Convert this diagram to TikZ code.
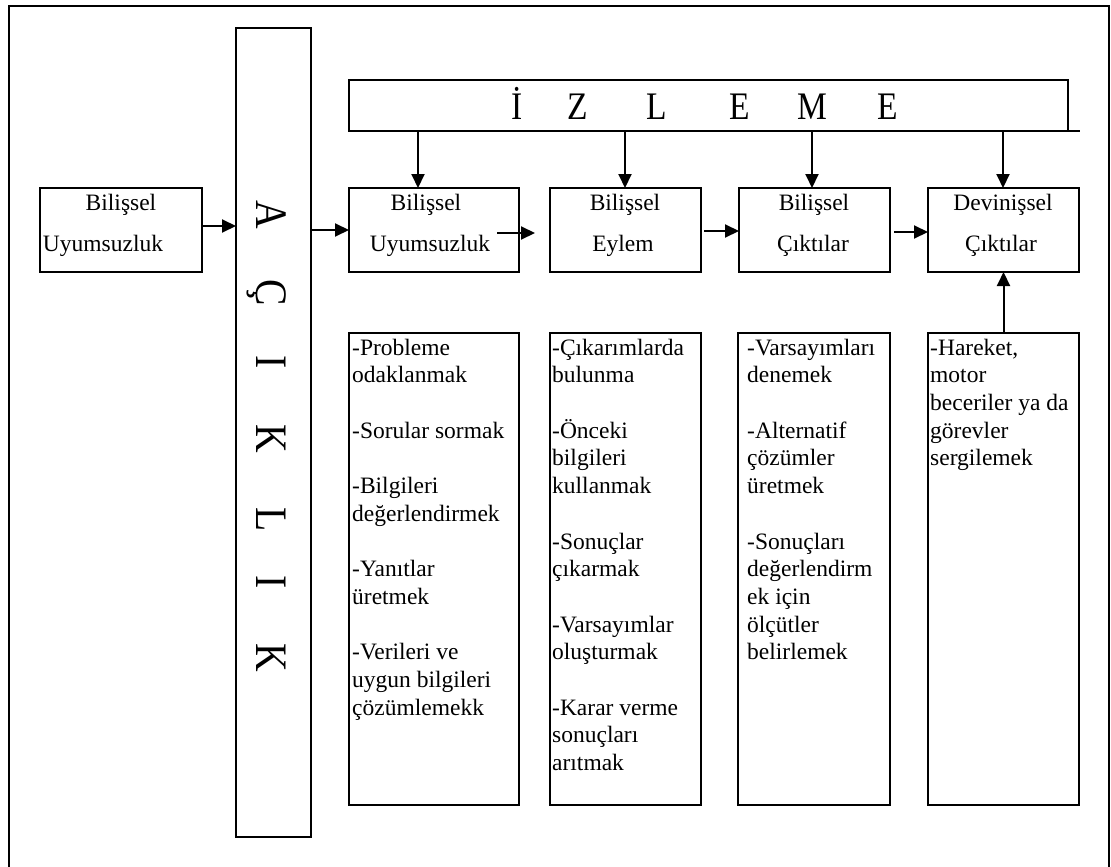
\documentclass[tikz,border=0pt]{standalone}
\usepackage{fontspec}
\usepackage{graphicx}
\setmainfont{Liberation Serif}
\usetikzlibrary{arrows.meta}
\begin{document}
\begin{tikzpicture}[x=1pt,y=-1pt,
  box/.style={draw,line width=2pt,inner sep=0pt,outer sep=0pt,anchor=north west},
  arr/.style={line width=2pt,-{Triangle[length=14pt,width=13pt]}},
  lbl/.style={inner sep=0pt,anchor=base,font=\fontsize{23.5}{27.7}\selectfont},
  listtxt/.style={inner sep=0pt,anchor=north west,align=left,font=\fontsize{23.5}{27.7}\selectfont},
  bigtxt/.style={inner sep=0pt,anchor=base west},
]
\useasboundingbox (0,0) rectangle (1111,867);
% outer frame
\draw[line width=1.6pt] (9,872) -- (9,6) -- (1109,6) -- (1109,872);

% boxes
\node[box,minimum width=162pt,minimum height=84pt] (L) at (40,188) {};
\node[box,minimum width=75pt,minimum height=809pt] (A) at (236,28) {};
\node[box,minimum width=719pt,minimum height=51pt] (I) at (349,80) {};
\coordinate (Iext) at (1080,131);
\draw[line width=2pt] (I.south east) -- (Iext);

\node[box,minimum width=170pt,minimum height=84pt] (U1) at (349,188) {};
\node[box,minimum width=151pt,minimum height=84pt] (U2) at (550,188) {};
\node[box,minimum width=151pt,minimum height=84pt] (U3) at (739,188) {};
\node[box,minimum width=151pt,minimum height=84pt] (U4) at (928,188) {};

\node[box,minimum width=170pt,minimum height=472pt] (D1) at (349,333) {};
\node[box,minimum width=151pt,minimum height=472pt] (D2) at (550,333) {};
\node[box,minimum width=152pt,minimum height=472pt] (D3) at (738,333) {};
\node[box,minimum width=151pt,minimum height=472pt] (D4) at (928,333) {};

% big letter texts
\node[bigtxt,font=\fontsize{39}{44}\selectfont] (izl) at (517,119)
 {\makebox[0pt]{\scalebox{0.86}[1]{İ}}\hspace{61pt}\makebox[0pt]{\scalebox{0.86}[1]{Z}}\hspace{79pt}\makebox[0pt]{\scalebox{0.86}[1]{L}}\hspace{83pt}\makebox[0pt]{\scalebox{0.86}[1]{E}}\hspace{72pt}\makebox[0pt]{\scalebox{0.86}[1]{M}}\hspace{76pt}\makebox[0pt]{\scalebox{0.86}[1]{E}}};
\node[bigtxt,rotate=-90,font=\fontsize{45}{50}\selectfont] (acik) at (256,215)
 {\makebox[0pt]{\scalebox{0.88}[1]{A}}\hspace{78pt}\makebox[0pt]{\scalebox{0.88}[1]{Ç}}\hspace{69pt}\makebox[0pt]{\scalebox{0.88}[1]{I}}\hspace{77pt}\makebox[0pt]{\scalebox{0.88}[1]{K}}\hspace{80pt}\makebox[0pt]{\scalebox{0.88}[1]{L}}\hspace{63pt}\makebox[0pt]{\scalebox{0.88}[1]{I}}\hspace{76pt}\makebox[0pt]{\scalebox{0.88}[1]{K}}};

% upper labels
\node[lbl] (Lt1) at (121,210) {Bilişsel};
\node[lbl] (Lt2) at (103,251) {Uyumsuzluk};
\node[lbl] (U1t1) at (426,210) {Bilişsel};
\node[lbl] (U1t2) at (430,251) {Uyumsuzluk};
\node[lbl] (U2t1) at (625,210) {Bilişsel};
\node[lbl] (U2t2) at (623,251) {Eylem};
\node[lbl] (U3t1) at (814,210) {Bilişsel};
\node[lbl] (U3t2) at (813,251) {Çıktılar};
\node[lbl] (U4t1) at (1003,210) {Devinişsel};
\node[lbl] (U4t2) at (1001,251) {Çıktılar};

% lists
\node[listtxt] (D1t) at (352,335.6) {\strut-Probleme\\odaklanmak\\\strut\\-Sorular sormak\\\strut\\-Bilgileri\\değerlendirmek\\\strut\\-Yanıtlar\\üretmek\\\strut\\-Verileri ve\\uygun bilgileri\\çözümlemekk};
\node[listtxt] (D2t) at (552,335.6) {\strut-Çıkarımlarda\\bulunma\\\strut\\-Önceki\\bilgileri\\kullanmak\\\strut\\-Sonuçlar\\çıkarmak\\\strut\\-Varsayımlar\\oluşturmak\\\strut\\-Karar verme\\sonuçları\\arıtmak};
\node[listtxt] (D3t) at (747,335.6) {\strut-Varsayımları\\denemek\\\strut\\-Alternatif\\çözümler\\üretmek\\\strut\\-Sonuçları\\değerlendirm\\ek için\\ölçütler\\belirlemek};
\node[listtxt] (D4t) at (930,335.6) {\strut-Hareket,\\motor\\beceriler ya da\\görevler\\sergilemek};

% arrows
\draw[arr] ([yshift=4pt]L.east) -- ([yshift=4pt]L.east -| A.west);
\draw[arr] (A.east |- U1.west) -- (U1.west);
\coordinate (c12a) at (497,233);
\coordinate (c12b) at (535,233);
\draw[arr] (c12a) -- (c12b);
\draw[arr] ([xshift=3pt,yshift=-1pt]U2.east) -- ([yshift=-1pt]U3.west);
\draw[arr] ([xshift=4pt,yshift=-2pt]U3.east) -- ([yshift=-2pt]U4.west);
\draw[arr] (D4.north) -- (U4.south);

\coordinate (x1) at (418,0);
\coordinate (x2) at (625,0);
\coordinate (x3) at (812,0);
\coordinate (x4) at (1003,0);
\foreach \k in {1,2,3,4}{
  \draw[arr] (I.south -| x\k) -- (U\k.north -| x\k);
}
\end{tikzpicture}
\end{document}
